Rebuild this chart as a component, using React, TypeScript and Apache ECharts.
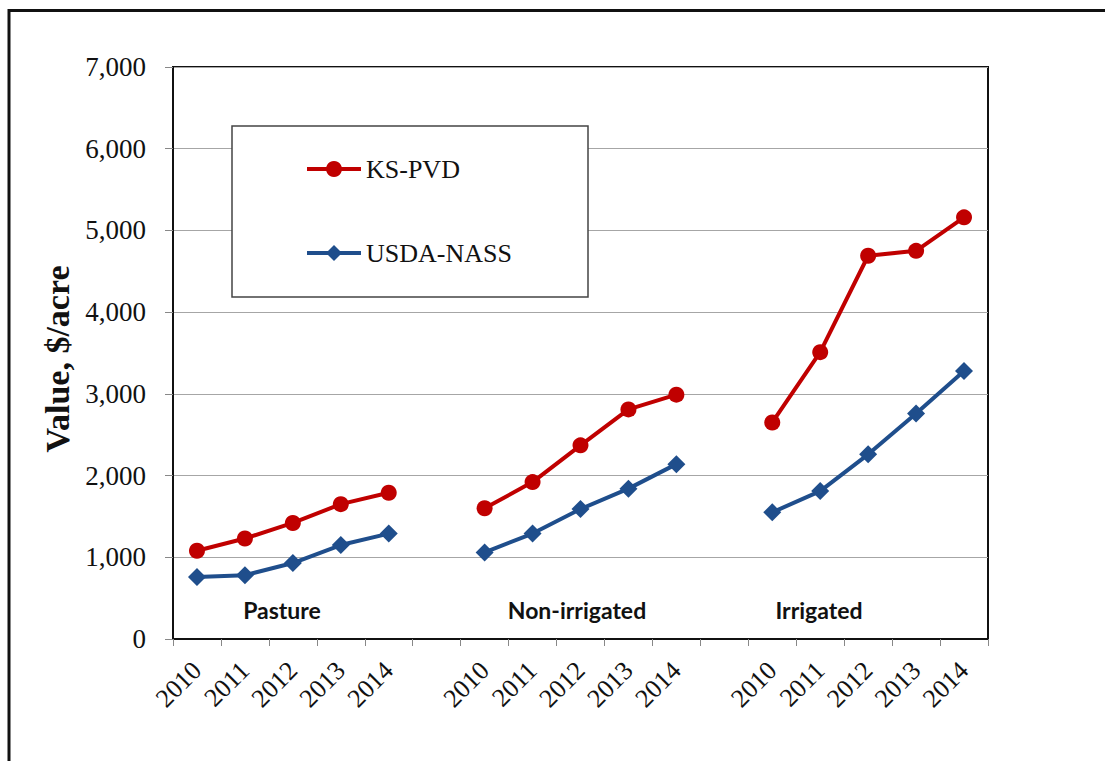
import React, { useEffect, useRef } from "react";
import * as echarts from "echarts";

const categories = [
  "2010", "2011", "2012", "2013", "2014", "",
  "2010", "2011", "2012", "2013", "2014", "",
  "2010", "2011", "2012", "2013", "2014",
];
const ksPvd = [
  1080, 1230, 1420, 1650, 1790, null,
  1600, 1920, 2370, 2810, 2990, null,
  2650, 3510, 4690, 4750, 5160,
];
const usdaNass = [
  760, 780, 930, 1150, 1290, null,
  1060, 1290, 1590, 1840, 2140, null,
  1550, 1810, 2260, 2760, 3280,
];
const groupLabels = ["Pasture", "Non-irrigated", "Irrigated"];
const groupLabelX = [282, 577, 819];
const yTicks = { min: 0, max: 7000, interval: 1000 };

const RED = "#C00000";
const BLUE = "#1F4E8C";
const SERIF = "'Liberation Serif', 'Times New Roman', serif";

export default function App() {
  const ref = useRef<HTMLDivElement>(null);
  useEffect(() => {
    if (!ref.current) return;
    const chart = echarts.init(ref.current, null, { renderer: "svg" });
    chart.setOption({
      animation: false,
      backgroundColor: "#fff",
      grid: {
        left: 173,
        top: 67,
        right: 117,
        bottom: 122,
        show: true,
        borderColor: "#111",
        borderWidth: 2,
        containLabel: false,
      },
      legend: {
        data: ["KS-PVD", "USDA-NASS"],
        orient: "vertical",
        left: 305,
        top: 156,
        padding: 0,
        itemWidth: 54,
        itemHeight: 20,
        itemGap: 58,
        z: 10,
        lineStyle: { width: 4 },
        textStyle: { fontFamily: SERIF, fontSize: 26, color: "#111" },
      },
      xAxis: {
        type: "category",
        data: categories,
        boundaryGap: true,
        axisLine: { lineStyle: { color: "#111", width: 2 } },
        axisTick: { show: true, interval: 0, length: 7, lineStyle: { color: "#888" } },
        axisLabel: {
          interval: 0,
          rotate: 45,
          margin: 27,
          fontFamily: SERIF,
          fontSize: 26,
          color: "#111",
        },
        splitLine: { show: false },
      },
      yAxis: {
        type: "value",
        min: yTicks.min,
        max: yTicks.max,
        interval: yTicks.interval,
        axisLine: { show: true, lineStyle: { color: "#111", width: 2 } },
        axisTick: { show: true, length: 8, lineStyle: { color: "#888" } },
        axisLabel: {
          margin: 27,
          fontFamily: SERIF,
          fontSize: 27,
          color: "#111",
          formatter: (v: number) => v.toLocaleString("en-US"),
        },
        splitLine: { show: true, lineStyle: { color: "#A6A6A6", width: 1 } },
      },
      series: [
        {
          name: "KS-PVD",
          type: "line",
          data: ksPvd,
          connectNulls: false,
          symbol: "circle",
          symbolSize: 16,
          lineStyle: { color: RED, width: 4 },
          itemStyle: { color: RED },
          z: 3,
        },
        {
          name: "USDA-NASS",
          type: "line",
          data: usdaNass,
          connectNulls: false,
          symbol: "diamond",
          symbolSize: 18,
          lineStyle: { color: BLUE, width: 4 },
          itemStyle: { color: BLUE },
          z: 3,
        },
      ],
      graphic: [
        {
          type: "rect",
          z: 0,
          silent: true,
          shape: { x: 9, y: 10.5, width: 1200, height: 800 },
          style: { fill: "none", stroke: "#111", lineWidth: 3 },
        },
        {
          type: "rect",
          z: 5,
          silent: true,
          shape: { x: 232, y: 126, width: 356, height: 171 },
          style: { fill: "#fff", stroke: "#444", lineWidth: 1.5 },
        },
        {
          type: "text",
          x: 57,
          y: 359,
          rotation: Math.PI / 2,
          style: {
            text: "Value, $/acre",
            fontFamily: SERIF,
            fontWeight: "bold",
            fontSize: 34,
            fill: "#111",
            align: "center",
            verticalAlign: "middle",
          },
        },
        ...groupLabels.map((t, i) => ({
          type: "text",
          x: groupLabelX[i],
          y: 610,
          style: {
            text: t,
            fontFamily: "Lato, 'Open Sans', sans-serif",
            fontWeight: "bold",
            fontSize: 23,
            fill: "#111",
            align: "center",
            verticalAlign: "middle",
          },
        })),
      ],
    });
    return () => chart.dispose();
  }, []);
  return (
    <div
      ref={ref}
      style={{ position: "fixed", left: 0, top: 0, width: 1105, height: 761 }}
    />
  );
}
